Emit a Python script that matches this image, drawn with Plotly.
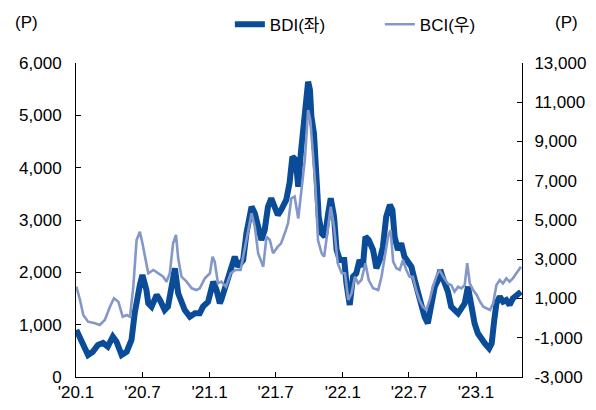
import plotly.graph_objects as go

bdi_dates = [
    "2020-01-02", "2020-01-12", "2020-01-25", "2020-02-03", "2020-02-16", "2020-03-01", "2020-03-15",
    "2020-03-28", "2020-04-11", "2020-04-21", "2020-05-05", "2020-05-19", "2020-06-01", "2020-06-10",
    "2020-06-24", "2020-07-01", "2020-07-12", "2020-07-17", "2020-07-26", "2020-08-09", "2020-08-18",
    "2020-08-31", "2020-09-09", "2020-09-19", "2020-09-28", "2020-10-07", "2020-10-16", "2020-10-25",
    "2020-11-08", "2020-11-22", "2020-12-05", "2020-12-14", "2020-12-28", "2021-01-11", "2021-01-20",
    "2021-01-29", "2021-02-02", "2021-02-11", "2021-02-25", "2021-03-11", "2021-03-20", "2021-04-03",
    "2021-04-12", "2021-04-26", "2021-05-05", "2021-05-14", "2021-05-23", "2021-06-01", "2021-06-10",
    "2021-06-19", "2021-06-28", "2021-07-07", "2021-07-16", "2021-07-30", "2021-08-08", "2021-08-16",
    "2021-08-25", "2021-09-01", "2021-09-08", "2021-09-14", "2021-09-21", "2021-09-28", "2021-10-03",
    "2021-10-07", "2021-10-14", "2021-10-21", "2021-10-27", "2021-11-04", "2021-11-13", "2021-11-22",
    "2021-11-29", "2021-12-08", "2021-12-15", "2021-12-24", "2022-01-05", "2022-01-11", "2022-01-20",
    "2022-01-29", "2022-02-07", "2022-02-16", "2022-02-25", "2022-03-04", "2022-03-13", "2022-03-25",
    "2022-04-03", "2022-04-12", "2022-04-21", "2022-04-30", "2022-05-10", "2022-05-17", "2022-05-23",
    "2022-06-01", "2022-06-10", "2022-06-19", "2022-06-28", "2022-07-08", "2022-07-17", "2022-07-26",
    "2022-08-04", "2022-08-13", "2022-08-22", "2022-09-01", "2022-09-10", "2022-09-19", "2022-09-25",
    "2022-10-04", "2022-10-16", "2022-10-25", "2022-11-03", "2022-11-13", "2022-11-22", "2022-12-01",
    "2022-12-10", "2022-12-19", "2022-12-28", "2023-01-06", "2023-01-16", "2023-01-25", "2023-02-06",
    "2023-02-13", "2023-02-20", "2023-02-26", "2023-03-07", "2023-03-16", "2023-03-25", "2023-04-03",
    "2023-04-12", "2023-04-22", "2023-05-04",
]
bdi_values = [
    900, 745, 516, 420, 483, 611, 650,
    580, 770, 675, 420, 483, 707, 1223,
    1758, 1949, 1662, 1408, 1344, 1567, 1471,
    1280, 1344, 1726, 2077, 1600, 1408, 1280,
    1152, 1217, 1217, 1344, 1439, 1821, 1662,
    1408, 1471, 1662, 1917, 2299, 2108, 2236,
    2746, 3254, 3128, 2872, 2618, 2809, 3254,
    3415, 3254, 3096, 3191, 3383, 3701, 4210,
    4147, 3637, 4275, 4657, 5166, 5643, 5485,
    4975, 4657, 3828, 3063, 2746, 2681, 3128,
    3415, 3063, 2427, 2236, 2236, 1790, 1376,
    1917, 1981, 2236, 2108, 2681, 2618, 2427,
    2077, 2236, 2490, 3063, 3287, 3191, 2681,
    2427, 2555, 2299, 2203, 2108, 1854, 1600,
    1408, 1152, 1026, 1408, 1726, 1854, 2045,
    1854, 1630, 1344, 1280, 1217, 1312, 1408,
    1726, 1344, 1026, 835, 707, 644, 548,
    644, 1089, 1408, 1535, 1439, 1471, 1376,
    1503, 1567, 1630,
]

bci_dates = [
    "2020-01-02", "2020-01-12", "2020-01-21", "2020-02-03", "2020-02-22", "2020-03-06", "2020-03-20",
    "2020-04-03", "2020-04-14", "2020-04-26", "2020-05-08", "2020-05-19", "2020-05-28", "2020-06-06",
    "2020-06-15", "2020-06-24", "2020-07-01", "2020-07-10", "2020-07-17", "2020-07-31", "2020-08-13",
    "2020-08-27", "2020-09-05", "2020-09-14", "2020-09-23", "2020-10-01", "2020-10-07", "2020-10-16",
    "2020-10-30", "2020-11-13", "2020-11-26", "2020-12-05", "2020-12-19", "2021-01-02", "2021-01-09",
    "2021-01-15", "2021-01-24", "2021-02-02", "2021-02-15", "2021-02-28", "2021-03-13", "2021-03-27",
    "2021-04-12", "2021-04-26", "2021-05-05", "2021-05-14", "2021-05-28", "2021-06-06", "2021-06-15",
    "2021-06-24", "2021-07-07", "2021-07-16", "2021-07-26", "2021-08-04", "2021-08-13", "2021-08-22",
    "2021-09-01", "2021-09-10", "2021-09-19", "2021-09-28", "2021-10-04", "2021-10-11", "2021-10-18",
    "2021-10-25", "2021-11-04", "2021-11-11", "2021-11-20", "2021-11-29", "2021-12-08", "2021-12-18",
    "2021-12-29", "2022-01-07", "2022-01-16", "2022-01-25", "2022-02-03", "2022-02-12", "2022-02-21",
    "2022-03-04", "2022-03-13", "2022-03-25", "2022-04-08", "2022-04-17", "2022-04-26", "2022-05-05",
    "2022-05-12", "2022-05-19", "2022-05-28", "2022-06-06", "2022-06-15", "2022-06-24", "2022-07-03",
    "2022-07-12", "2022-07-21", "2022-07-30", "2022-08-08", "2022-08-18", "2022-08-27", "2022-09-05",
    "2022-09-14", "2022-09-23", "2022-10-03", "2022-10-16", "2022-10-25", "2022-11-03", "2022-11-13",
    "2022-11-22", "2022-12-01", "2022-12-08", "2022-12-15", "2022-12-24", "2023-01-03", "2023-01-12",
    "2023-01-21", "2023-01-30", "2023-02-08", "2023-02-17", "2023-02-26", "2023-03-07", "2023-03-16",
    "2023-03-25", "2023-04-03", "2023-04-12", "2023-04-22", "2023-05-04",
]
bci_values = [
    1602, 924, 160, -182, -265, -350, -95,
    584, 1011, 836, 73, 160, 73, 1602,
    3981, 4405, 3813, 3049, 2285, 2454, 2285,
    2111, 1857, 2285, 3813, 4236, 3049, 2111,
    1857, 1520, 1433, 1520, 2027, 2285, 3130,
    2876, 1772, 1857, 1602, 2285, 2454, 2454,
    3981, 5342, 4660, 3304, 2621, 4150, 3981,
    3304, 3640, 3813, 4323, 4832, 6106, 6200,
    5080, 6530, 8058, 10606, 10097, 8400, 6700,
    3981, 3304, 3130, 4491, 5678, 4660, 2795,
    2285, 2285, 924, 1265, 2111, 1772, 1943,
    2795, 1943, 1520, 1433, 2111, 3130, 4150,
    4491, 2876, 2540, 2454, 2962, 2454, 2111,
    2111, 1433, 924, 584, 414, 924, 1602,
    2111, 2454, 2111, 1750, 1688, 1347, 1602,
    1520, 1688, 2795, 1772, 1433, 1178, 837,
    584, 500, 414, 754, 1688, 1943, 1772,
    2027, 1857, 2027, 2285, 2621,
]

tick_dates = ["2020-01-01", "2020-07-01", "2021-01-01", "2021-07-01", "2022-01-01", "2022-07-01", "2023-01-01"]
tick_labels = ["'20.1", "'20.7", "'21.1", "'21.7", "'22.1", "'22.7", "'23.1"]
left_ticks = [0, 1000, 2000, 3000, 4000, 5000, 6000]
left_labels = ["0", "1,000", "2,000", "3,000", "4,000", "5,000", "6,000"]
right_ticks = [-3000, -1000, 1000, 3000, 5000, 7000, 9000, 11000, 13000]
right_labels = ["-3,000", "-1,000", "1,000", "3,000", "5,000", "7,000", "9,000", "11,000", "13,000"]

FONT = "Liberation Sans, Arial, Noto Sans CJK KR, sans-serif"
FS = 17
BDI_COLOR = "#0A4C97"
BCI_COLOR = "#8397C8"

fig = go.Figure()
fig.add_trace(go.Scatter(x=bci_dates, y=bci_values, name="BCI(우)", mode="lines",
                         line=dict(color=BCI_COLOR, width=2.6), yaxis="y2"))
fig.add_trace(go.Scatter(x=bdi_dates, y=bdi_values, name="BDI(좌)", mode="lines",
                         line=dict(color=BDI_COLOR, width=6)))

axis_common = dict(showgrid=False, zeroline=False, showline=True, linecolor="black", linewidth=1,
                   ticks="inside", ticklen=5, tickcolor="black", tickwidth=1,
                   tickfont=dict(family=FONT, size=FS, color="black"))

# the page body adds an 8px offset, so margins are shifted to keep the plot area at x 76-522, y 63-377
fig.update_layout(
    width=596, height=410,
    margin=dict(l=68, r=82, t=55, b=41, autoexpand=False),
    paper_bgcolor="white", plot_bgcolor="white",
    font=dict(family=FONT, size=FS, color="black"),
    showlegend=True,
    legend=dict(orientation="h", x=0.345, xanchor="left", y=1.122, yanchor="middle",
                traceorder="reversed", font=dict(family=FONT, size=FS, color="black"),
                bgcolor="rgba(0,0,0,0)", entrywidth=105),
    xaxis=dict(type="date", range=["2020-01-01", "2023-05-07"], tickvals=tick_dates, ticktext=tick_labels,
               automargin=False, **axis_common),
    yaxis=dict(range=[0, 6000], tickvals=left_ticks, ticktext=left_labels, ticklabelstandoff=10,
               automargin=False, **axis_common),
    yaxis2=dict(range=[-3000, 13000], tickvals=right_ticks, ticktext=right_labels, overlaying="y",
                side="right", ticklabelstandoff=8, automargin=False, **axis_common),
    annotations=[
        dict(text="(P)", xref="paper", yref="paper", x=-0.11, y=1.13, xanchor="center", yanchor="middle",
             showarrow=False, font=dict(family=FONT, size=FS, color="black")),
        dict(text="(P)", xref="paper", yref="paper", x=1.1, y=1.13, xanchor="center", yanchor="middle",
             showarrow=False, font=dict(family=FONT, size=FS, color="black")),
    ],
)

fig.write_html("out.html")
